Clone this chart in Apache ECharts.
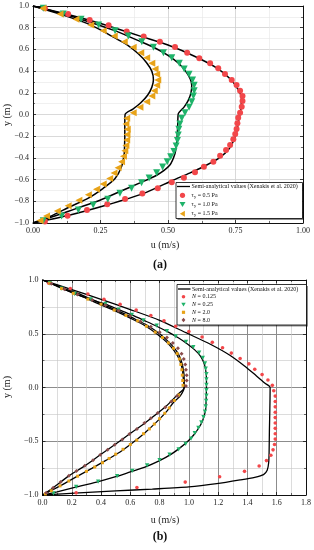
<!DOCTYPE html>
<html><head><meta charset="utf-8">
<script src="https://cdn.jsdelivr.net/npm/echarts@6/dist/echarts.min.js"></script>
<style>html,body{margin:0;padding:0;background:#fff}#c{width:314px;height:550px}</style>
</head><body><div id="c"></div>
<script>
// ---------- Chart (a) data: [u (m/s), y (m)] ----------
var aLineTau05 = [[0,1],[0.1,0.94],[0.2,0.875],[0.3,0.8],[0.4,0.72],[0.5,0.64],[0.6,0.535],[0.68,0.43],[0.73,0.33],[0.76,0.23],[0.772,0.15],[0.77,0.05],[0.762,-0.05],[0.755,-0.15],[0.745,-0.23],[0.725,-0.32],[0.69,-0.4],[0.64,-0.47],[0.58,-0.54],[0.52,-0.604],[0.41,-0.727],[0.273,-0.834],[0.137,-0.926],[0,-1]];
var aLineTau10 = [[0,1],[0.1,0.935],[0.2,0.86],[0.3,0.775],[0.4,0.67],[0.45,0.615],[0.5,0.545],[0.54,0.47],[0.565,0.4],[0.582,0.33],[0.588,0.27],[0.585,0.2],[0.575,0.13],[0.56,0.07],[0.538,0.005],[0.536,-0.1],[0.534,-0.2],[0.531,-0.28],[0.526,-0.36],[0.507,-0.465],[0.458,-0.56],[0.396,-0.63],[0.322,-0.71],[0.248,-0.79],[0.162,-0.865],[0.075,-0.94],[0,-1]];
var aLineTau15 = [[0,1],[0.1,0.925],[0.2,0.84],[0.25,0.78],[0.3,0.71],[0.35,0.64],[0.39,0.56],[0.42,0.48],[0.44,0.4],[0.446,0.32],[0.44,0.25],[0.425,0.18],[0.4,0.11],[0.37,0.05],[0.341,0.0],[0.34,-0.1],[0.34,-0.2],[0.339,-0.3],[0.338,-0.36],[0.328,-0.48],[0.304,-0.59],[0.26,-0.68],[0.205,-0.77],[0.137,-0.85],[0.063,-0.94],[0,-1]];
var aPtsTau05 = [[0.044,0.979],[0.13,0.926],[0.21,0.872],[0.28,0.822],[0.347,0.765],[0.41,0.718],[0.47,0.67],[0.526,0.622],[0.571,0.57],[0.616,0.518],[0.656,0.472],[0.686,0.426],[0.711,0.373],[0.736,0.318],[0.754,0.272],[0.767,0.22],[0.776,0.17],[0.776,0.124],[0.773,0.072],[0.767,0.017],[0.76,-0.03],[0.757,-0.081],[0.754,-0.134],[0.749,-0.18],[0.742,-0.229],[0.73,-0.281],[0.715,-0.327],[0.693,-0.38],[0.668,-0.435],[0.633,-0.481],[0.6,-0.533],[0.559,-0.582],[0.514,-0.625],[0.462,-0.68],[0.405,-0.727],[0.341,-0.779],[0.275,-0.828],[0.2,-0.88],[0.128,-0.933],[0.044,-0.986]];
var aPtsTau10 = [[0.038,0.979],[0.112,0.926],[0.178,0.877],[0.243,0.825],[0.304,0.772],[0.353,0.723],[0.403,0.671],[0.446,0.619],[0.483,0.57],[0.514,0.524],[0.542,0.472],[0.56,0.419],[0.578,0.37],[0.591,0.318],[0.597,0.269],[0.597,0.22],[0.594,0.17],[0.588,0.118],[0.578,0.066],[0.563,0.017],[0.551,-0.035],[0.544,-0.088],[0.54,-0.136],[0.538,-0.189],[0.535,-0.24],[0.53,-0.29],[0.522,-0.34],[0.51,-0.39],[0.497,-0.435],[0.48,-0.485],[0.458,-0.536],[0.43,-0.585],[0.402,-0.628],[0.365,-0.68],[0.322,-0.726],[0.277,-0.78],[0.223,-0.834],[0.168,-0.88],[0.106,-0.935],[0.038,-0.98]];
var aPtsTau15 = [[0.036,0.979],[0.1,0.926],[0.159,0.877],[0.214,0.825],[0.26,0.772],[0.301,0.723],[0.338,0.671],[0.371,0.619],[0.399,0.57],[0.421,0.524],[0.44,0.472],[0.452,0.419],[0.458,0.37],[0.462,0.318],[0.458,0.269],[0.449,0.22],[0.44,0.17],[0.421,0.118],[0.396,0.066],[0.371,0.017],[0.347,-0.035],[0.344,-0.088],[0.349,-0.135],[0.348,-0.185],[0.347,-0.235],[0.344,-0.285],[0.34,-0.335],[0.335,-0.385],[0.328,-0.435],[0.315,-0.49],[0.3,-0.54],[0.284,-0.59],[0.26,-0.64],[0.235,-0.69],[0.205,-0.74],[0.17,-0.79],[0.13,-0.84],[0.09,-0.89],[0.05,-0.935],[0.026,-0.978]];

// ---------- Chart (b) data ----------
var bLineN0125 = [[0,1],[0.2,0.91],[0.4,0.82],[0.6,0.725],[0.8,0.625],[0.98,0.51],[1.15,0.4],[1.28,0.3],[1.38,0.2],[1.46,0.11],[1.52,0.04],[1.555,0],[1.553,-0.2],[1.55,-0.4],[1.548,-0.6],[1.545,-0.7],[1.535,-0.77],[1.51,-0.81],[1.45,-0.835],[1.35,-0.86],[1.19,-0.895],[1.0,-0.925],[0.75,-0.945],[0.5,-0.962],[0.25,-0.98],[0,-1]];
var bLineN025 = [[0,1],[0.1,0.945],[0.22,0.87],[0.33,0.82],[0.43,0.775],[0.52,0.725],[0.61,0.675],[0.7,0.62],[0.78,0.57],[0.86,0.515],[0.93,0.46],[0.99,0.405],[1.04,0.35],[1.08,0.29],[1.105,0.22],[1.117,0.14],[1.12,0.07],[1.12,0],[1.118,-0.1],[1.115,-0.2],[1.105,-0.26],[1.09,-0.32],[1.07,-0.37],[1.04,-0.43],[1.0,-0.49],[0.95,-0.55],[0.88,-0.62],[0.8,-0.68],[0.7,-0.74],[0.6,-0.785],[0.5,-0.83],[0.37,-0.88],[0.22,-0.93],[0.1,-0.97],[0,-1]];
var bLineN2 = [[0,1],[0.12,0.93],[0.25,0.86],[0.38,0.78],[0.5,0.71],[0.6,0.645],[0.7,0.575],[0.78,0.5],[0.85,0.42],[0.9,0.34],[0.935,0.26],[0.955,0.17],[0.962,0.08],[0.968,0],[0.94,-0.08],[0.9,-0.13],[0.85,-0.22],[0.78,-0.32],[0.7,-0.42],[0.62,-0.51],[0.53,-0.6],[0.43,-0.68],[0.34,-0.75],[0.24,-0.825],[0.12,-0.915],[0,-1]];
var bLineN8 = [[0,1],[0.13,0.93],[0.27,0.86],[0.4,0.78],[0.52,0.71],[0.62,0.645],[0.72,0.575],[0.8,0.5],[0.865,0.42],[0.915,0.34],[0.945,0.26],[0.962,0.17],[0.968,0.08],[0.968,0],[0.92,-0.07],[0.84,-0.18],[0.7,-0.33],[0.594,-0.433],[0.493,-0.533],[0.395,-0.626],[0.289,-0.729],[0.18,-0.822],[0.073,-0.932],[0,-1]];
var bPtsN0125 = [[0.043,0.97],[0.19,0.92],[0.31,0.87],[0.42,0.82],[0.53,0.775],[0.64,0.72],[0.74,0.67],[0.83,0.62],[0.91,0.57],[1.0,0.52],[1.09,0.47],[1.16,0.42],[1.23,0.37],[1.29,0.32],[1.35,0.27],[1.41,0.22],[1.45,0.17],[1.5,0.12],[1.54,0.07],[1.57,0.02],[1.58,-0.03],[1.59,-0.08],[1.59,-0.13],[1.59,-0.18],[1.59,-0.23],[1.59,-0.28],[1.59,-0.33],[1.59,-0.38],[1.59,-0.43],[1.59,-0.48],[1.585,-0.53],[1.575,-0.58],[1.56,-0.63],[1.53,-0.68],[1.48,-0.73],[1.38,-0.78],[1.21,-0.83],[0.975,-0.88],[0.645,-0.93],[0.23,-0.98]];
var bPtsN025 = [[0.05,0.97],[0.13,0.92],[0.22,0.87],[0.33,0.82],[0.43,0.775],[0.52,0.725],[0.61,0.675],[0.69,0.625],[0.78,0.575],[0.85,0.525],[0.91,0.475],[0.98,0.425],[1.03,0.375],[1.07,0.325],[1.095,0.275],[1.11,0.225],[1.115,0.175],[1.12,0.125],[1.12,0.075],[1.12,0.025],[1.12,-0.025],[1.12,-0.075],[1.118,-0.125],[1.115,-0.175],[1.11,-0.225],[1.1,-0.275],[1.085,-0.325],[1.065,-0.375],[1.04,-0.425],[1.015,-0.475],[0.978,-0.525],[0.93,-0.575],[0.868,-0.625],[0.8,-0.675],[0.715,-0.725],[0.613,-0.775],[0.51,-0.825],[0.38,-0.875],[0.23,-0.925],[0.075,-0.985]];
var bPtsN2 = [[0.05,0.97],[0.13,0.92],[0.21,0.876],[0.31,0.822],[0.4,0.775],[0.49,0.72],[0.57,0.67],[0.65,0.62],[0.71,0.57],[0.77,0.515],[0.82,0.465],[0.86,0.415],[0.895,0.365],[0.92,0.315],[0.935,0.265],[0.945,0.215],[0.952,0.165],[0.955,0.115],[0.958,0.065],[0.96,0.02],[0.93,-0.07],[0.9,-0.121],[0.866,-0.19],[0.835,-0.24],[0.8,-0.29],[0.764,-0.34],[0.73,-0.385],[0.69,-0.43],[0.644,-0.49],[0.6,-0.53],[0.55,-0.575],[0.5,-0.62],[0.455,-0.66],[0.41,-0.7],[0.357,-0.74],[0.3,-0.78],[0.24,-0.825],[0.18,-0.87],[0.12,-0.915],[0.06,-0.96],[0.02,-0.99]];
var bPtsN8 = [[0.06,0.965],[0.15,0.915],[0.24,0.865],[0.34,0.815],[0.43,0.765],[0.52,0.715],[0.6,0.665],[0.67,0.615],[0.74,0.565],[0.8,0.515],[0.85,0.465],[0.89,0.415],[0.925,0.365],[0.95,0.315],[0.965,0.265],[0.975,0.215],[0.98,0.165],[0.985,0.115],[0.985,0.065],[0.98,0.015],[0.92,-0.08],[0.88,-0.13],[0.839,-0.184],[0.787,-0.237],[0.74,-0.285],[0.696,-0.33],[0.645,-0.385],[0.594,-0.433],[0.545,-0.483],[0.493,-0.533],[0.445,-0.58],[0.395,-0.626],[0.345,-0.676],[0.289,-0.729],[0.232,-0.776],[0.18,-0.822],[0.124,-0.879],[0.073,-0.932],[0.025,-0.98]];

// ---------- Labels ----------
var lineName = 'Semi-analytical values (Xenakis et al. 2020)';
var aNames = ['τy = 0.5 Pa','τy = 1.0 Pa','τy = 1.5 Pa'];
var bNames = ['N = 0.125','N = 0.25','N = 2.0','N = 8.0'];
var xTitle = 'u (m/s)', yTitle = 'y (m)';

var SERIF = '"Liberation Serif","DejaVu Serif",serif';
var RED='#f2474a', GREEN='#1fb36a', ORANGE='#e8a318', BROWN='#8a4b4b';

function minusFmt(d){ return function(v){ return v.toFixed(d).replace('-', '\u2212'); }; }

function axisPair(grid, opts){
  var base = {
    gridIndex: grid, type:'value', min: opts.min, max: opts.max, interval: opts.interval,
    axisLine:{show:true, onZero:false, lineStyle:{color:'#111', width:1}},
    axisTick:{show:true, inside:true, length:3, lineStyle:{color:'#111', width:0.8}},
    minorTick:{show:true, splitNumber:2, length:2, lineStyle:{color:'#111', width:0.6}},
    splitLine:{show:true, lineStyle:{color:opts.major, width:opts.majorW}},
    minorSplitLine:{show:true, lineStyle:{color:opts.minor, width:0.6}},
    axisLabel:{show:true, fontFamily:SERIF, fontSize:8, color:'#222', margin:4, formatter:minusFmt(opts.dec)}
  };
  var mirror = JSON.parse(JSON.stringify(base));
  mirror.axisLabel = {show:false};
  mirror.splitLine = {show:false};
  mirror.minorSplitLine = {show:false};
  return [base, mirror];
}

var ax = axisPair(0,{min:0,max:1,interval:0.25,dec:2,major:'#cfcfcf',majorW:0.8,minor:'#e6e6e6'});
var ay = axisPair(0,{min:-1,max:1,interval:0.2,dec:1,major:'#cfcfcf',majorW:0.8,minor:'#e6e6e6'});
var bx = axisPair(1,{min:0,max:1.8,interval:0.2,dec:1,major:'#8c8c8c',majorW:1,minor:'#c4c4c4'});
var by = axisPair(1,{min:-1,max:1,interval:0.5,dec:1,major:'#8c8c8c',majorW:1,minor:'#c4c4c4'});
ax[0].position='bottom'; ax[1].position='top';
ay[0].position='left'; ay[1].position='right';
bx[0].position='bottom'; bx[1].position='top';
by[0].position='left'; by[1].position='right';

function lineS(data, xi, yi, w){
  return {name: lineName, type:'line', data:data, xAxisIndex:xi, yAxisIndex:yi, symbol:'none', smooth:0.25,
    lineStyle:{color:'#000', width:w}, itemStyle:{color:'#000'}, z:2, silent:true, animation:false};
}
function ptsS(name, data, xi, yi, sym, size, rot, color){
  return {name:name, type:'scatter', data:data, xAxisIndex:xi, yAxisIndex:yi, symbol:sym, symbolSize:size, symbolRotate:rot,
    itemStyle:{color:color, opacity:1}, z:3, silent:true, animation:false};
}

// ---------- legend drawn as graphic (box, sample line, marker glyph, text) ----------
var rich = {
  a:{fontFamily:SERIF, fontSize:6, fill:'#111', color:'#111'},
  s:{fontFamily:SERIF, fontSize:4.5, fill:'#111', color:'#111', padding:[3,0,0,0]},
  i:{fontFamily:SERIF, fontSize:6, fontStyle:'italic', fill:'#111', color:'#111'}
};
function glyph(kind, cx, cy, r, color){
  if(kind==='circle') return {type:'circle', shape:{cx:cx, cy:cy, r:r}, style:{fill:color}, z:101};
  var pts;
  if(kind==='down') pts=[[cx-r,cy-r*0.8],[cx+r,cy-r*0.8],[cx,cy+r*0.9]];
  else if(kind==='left') pts=[[cx+r*0.8,cy-r],[cx+r*0.8,cy+r],[cx-r*0.9,cy]];
  else if(kind==='rect') pts=[[cx-r,cy-r],[cx+r,cy-r],[cx+r,cy+r],[cx-r,cy+r]];
  else pts=[[cx,cy-r*1.2],[cx+r,cy],[cx,cy+r*1.2],[cx-r,cy]];
  return {type:'polygon', shape:{points:pts}, style:{fill:color}, z:101};
}
function legendBox(x0, y0, w, h, rows, lineX1, lineX2, markX, textX){
  var els = [];
  els.push({type:'rect', shape:{x:x0+1.5, y:y0+1.5, width:w, height:h}, style:{fill:'rgba(0,0,0,0.45)'}, z:99});
  els.push({type:'rect', shape:{x:x0, y:y0, width:w, height:h}, style:{fill:'#fff', stroke:'#000', lineWidth:0.8}, z:100});
  rows.forEach(function(r){
    if(r.kind==='line'){
      els.push({type:'line', shape:{x1:lineX1, y1:r.y, x2:lineX2, y2:r.y}, style:{stroke:'#000', lineWidth:1.3}, z:101});
    } else {
      els.push(glyph(r.kind, markX, r.y, r.r, r.color));
    }
    els.push({type:'text', x:textX, y:r.y, z:101, style:{text:r.text, rich:rich, font:'6px '+SERIF, fill:'#111', align:'left', verticalAlign:'middle'}});
  });
  return els;
}
function tauTxt(n){ return '{a|τ}{s|y}{a|'+n.slice(2)+'}'; }
function nTxt(n){ return '{i|N}{a|'+n.slice(1)+'}'; }

var legendA = legendBox(176, 182.5, 126.5, 36, [
  {kind:'line', y:186.5, text:'{a|'+lineName+'}'},
  {kind:'circle', y:195.3, r:2.6, color:RED, text:tauTxt(aNames[0])},
  {kind:'down', y:204.3, r:3, color:GREEN, text:tauTxt(aNames[1])},
  {kind:'left', y:213.7, r:3, color:ORANGE, text:tauTxt(aNames[2])}
], 177, 190, 182.5, 191.5);
var legendB = legendBox(177, 284.5, 129.5, 40.5, [
  {kind:'line', y:289, text:'{a|'+lineName+'}'},
  {kind:'circle', y:296.8, r:1.8, color:RED, text:nTxt(bNames[0])},
  {kind:'down', y:304.5, r:2.2, color:GREEN, text:nTxt(bNames[1])},
  {kind:'rect', y:312.3, r:1.6, color:ORANGE, text:nTxt(bNames[2])},
  {kind:'diamond', y:320, r:1.9, color:BROWN, text:nTxt(bNames[3])}
], 178, 190.5, 183.5, 192);

var option = {
  backgroundColor:'#fff',
  animation:false,
  grid:[
    {left:33, top:6, width:270, height:217, containLabel:false},
    {left:42.5, top:280, width:264.5, height:215, containLabel:false}
  ],
  xAxis:[ax[0], ax[1], bx[0], bx[1]],
  yAxis:[ay[0], ay[1], by[0], by[1]],
  series:[
    lineS(aLineTau05,0,0,1.5), lineS(aLineTau10,0,0,1.5), lineS(aLineTau15,0,0,1.5),
    ptsS(aNames[0], aPtsTau05, 0,0,'circle',6,0,RED),
    ptsS(aNames[1], aPtsTau10, 0,0,'triangle',7,180,GREEN),
    ptsS(aNames[2], aPtsTau15, 0,0,'triangle',7,90,ORANGE),
    lineS(bLineN0125,2,2,1.3), lineS(bLineN025,2,2,1.3), lineS(bLineN2,2,2,1.3), lineS(bLineN8,2,2,1.3),
    ptsS(bNames[0], bPtsN0125, 2,2,'circle',3.6,0,RED),
    ptsS(bNames[1], bPtsN025, 2,2,'triangle',4.3,180,GREEN),
    ptsS(bNames[2], bPtsN2, 2,2,'rect',3,0,ORANGE),
    ptsS(bNames[3], bPtsN8, 2,2,'diamond',4,0,BROWN)
  ],
  graphic:[
    {type:'text', x:165, y:245, style:{text:xTitle, font:'10px '+SERIF, fill:'#222', align:'center', verticalAlign:'middle'}},
    {type:'text', x:160, y:265, style:{text:'(a)', font:'bold 12px '+SERIF, fill:'#111', align:'center', verticalAlign:'middle'}},
    {type:'text', x:7, y:115, rotation:Math.PI/2, style:{text:yTitle, font:'10px '+SERIF, fill:'#222', align:'center', verticalAlign:'middle'}},
    {type:'text', x:165, y:520, style:{text:xTitle, font:'10px '+SERIF, fill:'#222', align:'center', verticalAlign:'middle'}},
    {type:'text', x:160, y:537, style:{text:'(b)', font:'bold 12px '+SERIF, fill:'#111', align:'center', verticalAlign:'middle'}},
    {type:'text', x:7, y:387, rotation:Math.PI/2, style:{text:yTitle, font:'10px '+SERIF, fill:'#222', align:'center', verticalAlign:'middle'}}
  ].concat(legendA, legendB)
};
var chart = echarts.init(document.getElementById('c'), null, {renderer:'canvas'});
chart.setOption(option);
</script></body></html>
